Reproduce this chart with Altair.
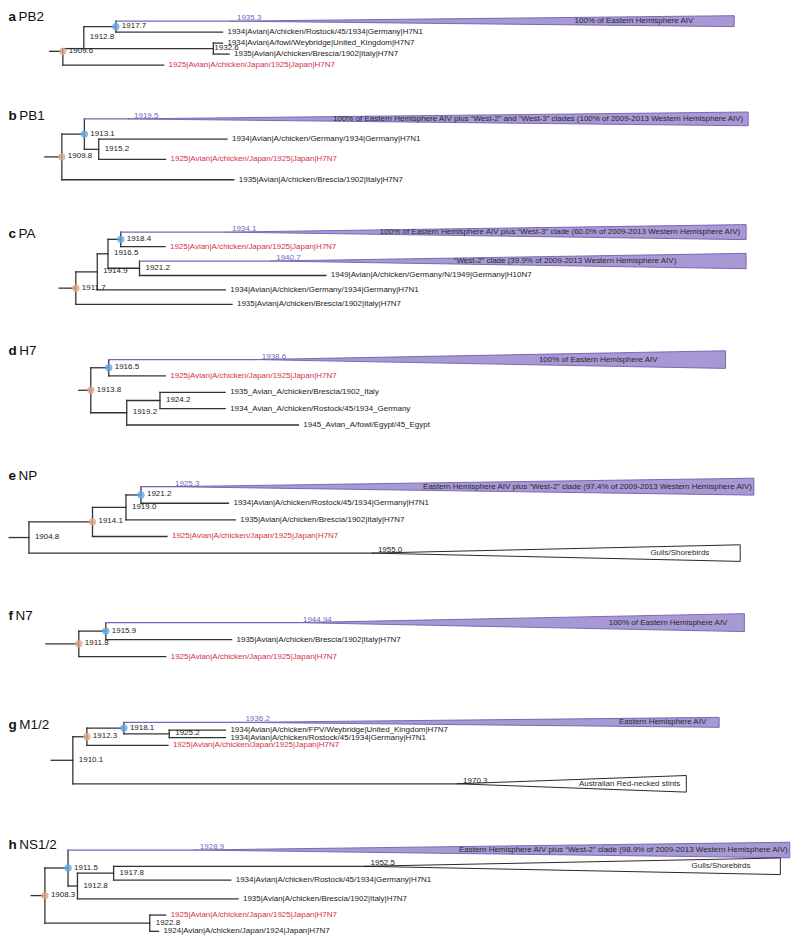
import altair as alt
import pandas as pd

FONT = "Liberation Sans"
LINE = "#333333"
EAST_LINE = "#6b6bc0"
EAST_FILL = "#a898d4"
EAST_EDGE = "#6e60ae"
RED = "#d42f4a"
TXT = "#222222"
BLUE_DOT = "#62a9e6"
PEACH_DOT = "#d9a98a"

JAPAN = "1925|Avian|A/chicken/Japan/1925|Japan|H7N7"

PANEL_LETTERS = ["a", "b", "c", "d", "e", "f", "g", "h"]
PANEL_GENES = ["PB2", "PB1", "PA", "H7", "NP", "N7", "M1/2", "NS1/2"]

# internal nodes: (id, parent, tMRCA year)
# tips: (parent, year, row, name)
# collapsed clades: (parent, tMRCA, row, last year, spread rows, kind, text)
A_NODES = [("r", None, 1909.6), ("n1", "r", 1912.8), ("n2", "n1", 1932.6), ("n3", "n1", 1917.7)]
A_TIPS = [
    ("n3", 1934, 1, "1934|Avian|A/chicken/Rostock/45/1934|Germany|H7N1"),
    ("n2", 1934, 2, "1934|Avian|A/fowl/Weybridge|United_Kingdom|H7N7"),
    ("n2", 1935, 3, "1935|Avian|A/chicken/Brescia/1902|Italy|H7N7"),
    ("r", 1925, 4, JAPAN),
]
A_CLADES = [("n3", 1935.3, 0, 2012.2, 0.5, "east", "100% of Eastern Hemisphere AIV")]
A_MARKED = ("n3", "r")

B_NODES = [("r", None, 1909.8), ("n1", "r", 1913.1), ("n2", "n1", 1915.2)]
B_TIPS = [
    ("n2", 1934, 1, "1934|Avian|A/chicken/Germany/1934|Germany|H7N1"),
    ("n2", 1925, 2, JAPAN),
    ("r", 1935, 3, "1935|Avian|A/chicken/Brescia/1902|Italy|H7N7"),
]
B_CLADES = [("n1", 1919.5, 0, 2010.4, 0.34, "east",
             "100% of Eastern Hemisphere AIV plus \u201cWest-2\u201d and \u201cWest-3\u201d clades (100% of 2009-2013 Western Hemisphere AIV)")]
B_MARKED = ("n1", "r")

C_NODES = [("r", None, 1911.7), ("n1", "r", 1914.9), ("n2", "n1", 1916.5), ("n3", "n2", 1918.4), ("n4", "n2", 1921.2)]
C_TIPS = [
    ("n3", 1925, 1, JAPAN),
    ("n4", 1949, 3, "1949|Avian|A/chicken/Germany/N/1949|Germany|H10N7"),
    ("n1", 1934, 4, "1934|Avian|A/chicken/Germany/1934|Germany|H7N1"),
    ("r", 1935, 5, "1935|Avian|A/chicken/Brescia/1902|Italy|H7N7"),
]
C_CLADES = [
    ("n3", 1934.1, 0, 2011.7, 0.52, "east",
     "100% of Eastern Hemisphere AIV plus \u201cWest-3\u201d clade (60.0% of 2009-2013 Western Hemisphere AIV)"),
    ("n4", 1940.7, 2, 2011.7, 0.53, "east",
     "\u201cWest-2\u201d clade (39.9% of 2009-2013 Western Hemisphere AIV)"),
]
C_MARKED = ("n3", "r")

D_NODES = [("r", None, 1913.8), ("n1", "r", 1916.5), ("n2", "r", 1919.2), ("n3", "n2", 1924.2)]
D_TIPS = [
    ("n1", 1925, 1, JAPAN),
    ("n3", 1934, 2, "1935_Avian_A/chicken/Brescia/1902_Italy"),
    ("n3", 1934, 3, "1934_Avian_A/chicken/Rostock/45/1934_Germany"),
    ("n2", 1945, 4, "1945_Avian_A/fowl/Egypt/45_Egypt"),
]
D_CLADES = [("n1", 1938.6, 0, 2009.2, 0.54, "east", "100% of Eastern Hemisphere AIV")]
D_MARKED = ("n1", "r")

E_NODES = [("r", None, 1904.8), ("n1", "r", 1914.1), ("n2", "n1", 1919.0), ("n3", "n2", 1921.2)]
E_TIPS = [
    ("n3", 1934, 1, "1934|Avian|A/chicken/Rostock/45/1934|Germany|H7N1"),
    ("n2", 1935, 2, "1935|Avian|A/chicken/Brescia/1902|Italy|H7N7"),
    ("n1", 1925, 3, JAPAN),
]
E_CLADES = [
    ("n3", 1925.3, 0, 2010.9, 0.51, "east",
     "Eastern Hemisphere AIV plus \u201cWest-2\u201d clade (97.4% of 2009-2013 Western Hemisphere AIV)"),
    ("r", 1955.0, 4, 2008.9, 0.5, "other", "Gulls/Shorebirds"),
]
E_MARKED = ("n3", "n1")

F_NODES = [("r", None, 1911.8), ("n1", "r", 1915.9)]
F_TIPS = [
    ("n1", 1935, 1, "1935|Avian|A/chicken/Brescia/1902|Italy|H7N7"),
    ("r", 1925, 2, JAPAN),
]
F_CLADES = [("n1", 1944.94, 0, 2012.9, 0.53, "east", "100% of Eastern Hemisphere AIV")]
F_MARKED = ("n1", "r")

G_NODES = [("r", None, 1910.1), ("n1", "r", 1912.3), ("n2", "n1", 1918.1), ("n3", "n2", 1925.2)]
G_TIPS = [
    ("n3", 1934, 1, "1934|Avian|A/chicken/FPV/Weybridge|United_Kingdom|H7N7"),
    ("n3", 1934, 2, "1934|Avian|A/chicken/Rostock/45/1934|Germany|H7N1"),
    ("n1", 1925, 3, JAPAN),
]
G_CLADES = [
    ("n2", 1936.2, 0, 2011.35, 0.65, "east", "Eastern Hemisphere AIV"),
    ("r", 1970.3, 8, 2006.2, 1.08, "other", "Australian Red-necked stints"),
]
G_MARKED = ("n2", "n1")

H_NODES = [("r", None, 1908.3), ("n1", "r", 1911.5), ("n2", "n1", 1912.8), ("n3", "n2", 1917.8), ("n4", "r", 1922.8)]
H_TIPS = [
    ("n3", 1934, 1.85, "1934|Avian|A/chicken/Rostock/45/1934|Germany|H7N1"),
    ("n2", 1935, 3, "1935|Avian|A/chicken/Brescia/1902|Italy|H7N7"),
    ("n4", 1925, 4, JAPAN),
    ("n4", 1924, 5, "1924|Avian|A/chicken/Japan/1924|Japan|H7N7"),
]
H_CLADES = [
    ("n1", 1928.9, 0, 2011.3, 0.48, "east",
     "Eastern Hemisphere AIV plus \u201cWest-2\u201d clade (98.9% of 2009-2013 Western Hemisphere AIV)"),
    ("n3", 1952.5, 1, 2010.0, 0.51, "other", "Gulls/Shorebirds"),
]
H_MARKED = ("n1", "r")

TREES = [
    (A_NODES, A_TIPS, A_CLADES, A_MARKED),
    (B_NODES, B_TIPS, B_CLADES, B_MARKED),
    (C_NODES, C_TIPS, C_CLADES, C_MARKED),
    (D_NODES, D_TIPS, D_CLADES, D_MARKED),
    (E_NODES, E_TIPS, E_CLADES, E_MARKED),
    (F_NODES, F_TIPS, F_CLADES, F_MARKED),
    (G_NODES, G_TIPS, G_CLADES, G_MARKED),
    (H_NODES, H_TIPS, H_CLADES, H_MARKED),
]

# ---------- layout (pixels / styling only) ----------
LAYOUT = [
    dict(top=8, h=92, root_px=63, s=6.56, row0=19, pitch=11, stub=2.0, title_y=14.5, cdx=[-41]),
    dict(top=100, h=120, root_px=62, s=6.84, row0=117, pitch=20.33, stub=2.5, title_y=114, cdx=[-5]),
    dict(top=220, h=120, root_px=76, s=6.72, row0=230.5, pitch=14.5, stub=2.5, title_y=232, cdx=[-6, -70]),
    dict(top=340, h=122, root_px=91, s=6.67, row0=358.3, pitch=16.4, stub=1.8, title_y=350, cdx=[-68]),
    dict(top=462, h=138, root_px=29, s=6.85, row0=485.7, pitch=16.65, stub=2.9, title_y=475, cdx=[-2, -31]),
    dict(top=600, h=105, root_px=79, s=6.6, row0=622, pitch=17, stub=5.0, title_y=615, cdx=[-17]),
    dict(top=705, h=107, root_px=73, s=6.4, row0=722, pitch=7.7, stub=3.4, title_y=725, cdx=[-13, -6]),
    dict(top=812, h=121, root_px=45, s=7.25, row0=850, pitch=16.3, stub=1.9, title_y=845, cdx=[-2, -30]),
]
BRANCH_OVERRIDE = {0: {"n1": 2.5}}
LABEL_DX_OVERRIDE = {0: {"n2": 1}}
WIDTH = 784
BOLD_ADV = {"a": .556, "b": .611, "c": .556, "d": .611, "e": .556, "f": .333, "g": .611, "h": .611}
TITLE_FS = 13.5


def build_panel(i):
    nodes, tips, clades, marked = TREES[i]
    L = LAYOUT[i]
    info = {}
    for nid, par, t in nodes:
        info[nid] = dict(parent=par, t=t, kind="node", children=[])
    for k, (par, t, row, name) in enumerate(tips):
        info[f"tip{k}"] = dict(parent=par, t=t, kind="tip", y=row, name=name, children=[])
    for k, (par, t, row, end, spread, ck, text) in enumerate(clades):
        info[f"clade{k}"] = dict(parent=par, t=t, kind="clade", y=row, end=end, spread=spread,
                                 ck=ck, text=text, idx=k, children=[])
    for key, v in info.items():
        if v["parent"]:
            info[v["parent"]]["children"].append(key)

    def gety(key):
        v = info[key]
        if "y" in v:
            return v["y"]
        ys = [gety(c) for c in v["children"]]
        v["y"] = (min(ys) + max(ys)) / 2
        return v["y"]

    root = next(k for k, v in info.items() if v["parent"] is None)
    gety(root)
    ov = BRANCH_OVERRIDE.get(i, {})
    for key, v in info.items():
        v["by"] = ov.get(key, v["y"])

    segs, tris, nlabs, tlabs, mlabs, dots, clabs = [], [], [], [], [], [], []
    r = info[root]
    segs.append(dict(x=r["t"] - L["stub"], x2=r["t"], y=r["y"], y2=r["y"], col=LINE))
    for key, v in info.items():
        if v["parent"]:
            p = info[v["parent"]]
            col = EAST_LINE if (v["kind"] == "clade" and v["ck"] == "east") else LINE
            segs.append(dict(x=p["t"], x2=v["t"], y=v["by"], y2=v["by"], col=col))
        if v["kind"] == "node":
            cb = [info[c]["by"] for c in v["children"]]
            segs.append(dict(x=v["t"], x2=v["t"], y=min(cb), y2=max(cb), col=LINE))
            nlabs.append(dict(x=v["t"], y=v["y"], text=f"{v['t']}",
                              ldx=LABEL_DX_OVERRIDE.get(i, {}).get(key, 6)))
        elif v["kind"] == "tip":
            tlabs.append(dict(x=v["t"], y=v["y"], text=v["name"],
                              col=RED if v["name"] == JAPAN else TXT))
        else:
            east = v["ck"] == "east"
            fill = EAST_FILL if east else "#ffffff"
            edge = EAST_EDGE if east else "#111111"
            tris.append(dict(id=key, x=v["t"], y=v["by"], y2=v["by"], fill=fill, stroke=edge))
            tris.append(dict(id=key, x=v["end"], y=v["by"] - v["spread"], y2=v["by"] + v["spread"],
                             fill=fill, stroke=edge))
            mlabs.append(dict(x=v["t"], y=v["by"], text=f"{v['t']}", col=EAST_LINE if east else TXT))
            clabs.append(dict(x=v["end"], y=v["by"], text=v["text"], dx=L["cdx"][v["idx"]]))
    blue, peach = marked
    dots.append(dict(x=info[blue]["t"], y=info[blue]["y"], col=BLUE_DOT))
    dots.append(dict(x=info[peach]["t"], y=info[peach]["y"], col=PEACH_DOT))

    t0 = r["t"] - (L["root_px"] - 8) / L["s"]
    t1 = t0 + WIDTH / L["s"]
    rtop = (L["top"] - L["row0"]) / L["pitch"]
    rbot = (L["top"] + L["h"] - L["row0"]) / L["pitch"]
    xs = alt.Scale(domain=[t0, t1], nice=False, zero=False)
    ys = alt.Scale(domain=[rtop, rbot], reverse=True, nice=False, zero=False)
    X = alt.X("x:Q", scale=xs, axis=None)
    Y = alt.Y("y:Q", scale=ys, axis=None)

    layers = []
    layers.append(alt.Chart(pd.DataFrame(segs)).mark_rule(strokeWidth=1.3, strokeCap="square").encode(
        x=X, x2="x2:Q", y=Y, y2="y2:Q", color=alt.Color("col:N", scale=None)))
    layers.append(alt.Chart(pd.DataFrame(tris)).mark_area(strokeWidth=0.9, opacity=1).encode(
        x=X, y=Y, y2="y2:Q", detail="id:N",
        fill=alt.Fill("fill:N", scale=None), stroke=alt.Stroke("stroke:N", scale=None)))
    layers.append(alt.Chart(pd.DataFrame(dots)).mark_circle(size=55, opacity=0.8).encode(
        x=X, y=Y, color=alt.Color("col:N", scale=None)))
    ndf = pd.DataFrame(nlabs)
    for ldx in sorted(ndf["ldx"].unique()):
        sub = ndf[ndf["ldx"] == ldx]
        layers.append(alt.Chart(sub).mark_text(align="left", baseline="middle", dx=float(ldx), dy=-0.5,
                                               font=FONT, fontSize=8, color=TXT).encode(
            x=X, y=Y, text="text:N"))
    layers.append(alt.Chart(pd.DataFrame(tlabs)).mark_text(align="left", baseline="middle", dx=5,
                                                          font=FONT, fontSize=8).encode(
        x=X, y=Y, text="text:N", color=alt.Color("col:N", scale=None)))
    layers.append(alt.Chart(pd.DataFrame(mlabs)).mark_text(align="left", baseline="bottom", dx=6, dy=1,
                                                          font=FONT, fontSize=8).encode(
        x=X, y=Y, text="text:N", color=alt.Color("col:N", scale=None)))
    for c in clabs:
        layers.append(alt.Chart(pd.DataFrame([c])).mark_text(align="right", baseline="middle", dx=float(c["dx"]),
                                                            font=FONT, fontSize=8, color="#2a2a2a").encode(
            x=X, y=Y, text="text:N"))
    letter = PANEL_LETTERS[i]
    ty = L["title_y"] - L["top"]
    tdf = pd.DataFrame({"letter": [letter], "gene": [PANEL_GENES[i]]})
    layers.append(alt.Chart(tdf).mark_text(align="left", baseline="middle", font=FONT, fontSize=TITLE_FS,
                                           fontWeight="bold", color="#111111").encode(
        x=alt.value(0.5), y=alt.value(ty), text="letter:N"))
    layers.append(alt.Chart(tdf).mark_text(align="left", baseline="middle", font=FONT, fontSize=TITLE_FS,
                                           color="#111111").encode(
        x=alt.value(0.5 + BOLD_ADV[letter] * TITLE_FS + 2.5), y=alt.value(ty), text="gene:N"))
    return alt.layer(*layers).properties(width=WIDTH, height=L["h"])


panels = [build_panel(i) for i in range(8)]
chart = alt.vconcat(*panels, spacing=0, bounds="flush", padding=0).configure_view(stroke=None)
chart.save("out.html", embed_options={"renderer": "svg", "actions": False})
